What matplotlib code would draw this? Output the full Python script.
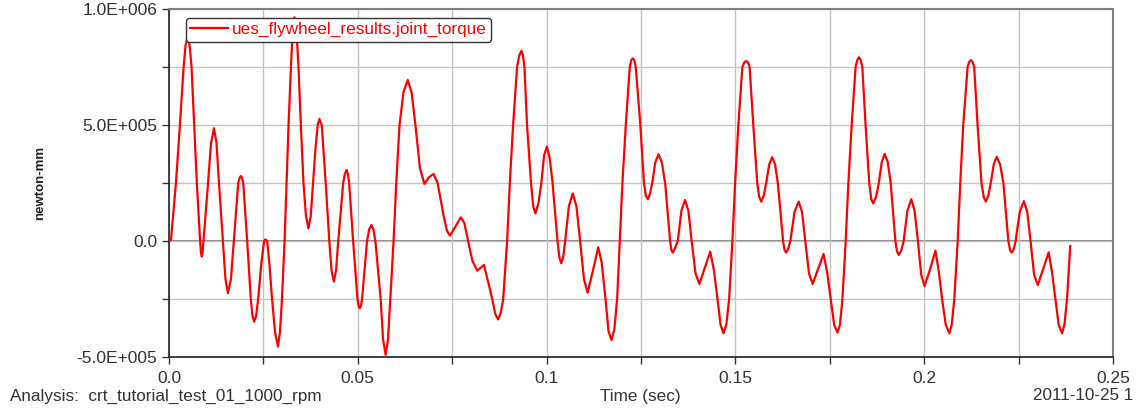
import matplotlib.pyplot as plt
from matplotlib.ticker import FuncFormatter, MultipleLocator

# joint torque: time in ms, torque in newton-mm
time_ms = [
    0.0, 0.53, 1.84, 2.89, 3.87, 4.40, 4.92, 5.45,
    5.97, 6.66, 7.37, 8.24, 8.46, 8.68, 8.90, 9.13,
    10.34, 11.13, 11.92, 12.58, 13.24, 14.29, 14.95, 15.61,
    16.40, 17.18, 18.34, 18.69, 19.03, 19.35, 19.66, 20.71,
    21.66, 22.10, 22.55, 23.08, 23.61, 24.40, 25.18, 25.53,
    26.00, 26.60, 27.29, 28.10, 28.87, 29.40, 29.92, 30.61,
    31.13, 31.66, 32.29, 32.77, 33.24, 33.77, 34.29, 34.92,
    35.61, 36.27, 36.92, 37.54, 38.16, 38.80, 39.39, 39.82,
    40.45, 41.50, 42.45, 43.05, 43.68, 44.25, 44.82, 46.13,
    46.58, 47.03, 47.37, 47.71, 48.76, 49.92, 50.22, 50.53,
    50.83, 51.13, 52.45, 53.00, 53.61, 54.15, 54.66, 56.05,
    56.70, 57.37, 58.00, 58.61, 59.47, 60.18, 61.05, 62.10,
    63.24, 64.25, 65.26, 66.45, 67.63, 68.85, 70.08, 71.13,
    72.76, 73.60, 74.39, 75.85, 77.29, 78.20, 79.21, 80.40,
    81.66, 83.42, 85.61, 86.40, 87.18, 87.85, 88.50, 89.55,
    90.26, 91.13, 92.18, 92.76, 93.34, 93.74, 94.13, 94.82,
    95.87, 96.45, 97.03, 97.80, 98.61, 99.35, 100.08, 100.80,
    101.58, 102.89, 103.38, 103.87, 104.40, 104.92, 105.90, 106.92,
    107.90, 108.87, 109.90, 110.87, 112.30, 113.68, 114.60, 115.61,
    116.40, 117.18, 117.95, 118.68, 119.39, 120.08, 120.97, 122.03,
    122.42, 122.82, 123.22, 123.61, 124.82, 125.79, 126.30, 126.84,
    127.40, 127.97, 128.80, 129.66, 130.50, 131.39, 132.71, 133.06,
    133.42, 133.90, 134.74, 135.70, 136.66, 137.55, 138.42, 139.45,
    140.45, 141.90, 143.34, 144.30, 145.26, 146.05, 146.84, 147.60,
    148.34, 149.21, 149.92, 150.79, 151.84, 152.37, 152.89, 153.33,
    153.76, 154.74, 155.79, 156.30, 156.84, 157.50, 158.16, 158.95,
    159.74, 160.50, 161.24, 162.63, 163.00, 163.42, 163.95, 164.55,
    165.65, 166.76, 167.65, 168.50, 169.50, 170.45, 171.90, 173.34,
    174.30, 175.26, 176.15, 177.03, 177.70, 178.34, 179.21, 179.92,
    180.79, 181.84, 182.28, 182.71, 183.16, 183.61, 184.47, 185.45,
    185.98, 186.50, 187.25, 187.97, 188.76, 189.55, 190.35, 191.13,
    192.37, 192.80, 193.24, 193.90, 194.55, 195.55, 196.58, 197.45,
    198.34, 199.20, 200.08, 201.50, 202.97, 203.85, 204.74, 205.70,
    206.66, 207.30, 207.97, 208.87, 209.55, 210.34, 211.50, 211.93,
    212.37, 212.80, 213.24, 214.13, 215.18, 215.75, 216.32, 216.97,
    217.63, 218.42, 219.21, 220.10, 220.97, 222.29, 222.72, 223.16,
    223.70, 224.21, 225.30, 226.39, 227.30, 228.16, 229.10, 230.08,
    231.50, 232.97, 233.85, 234.74, 235.60, 236.50, 237.15, 237.82,
    238.68,
]
torque = [
    0, 5e3, 2.5e5, 5e5, 7.5e5, 8.45e5, 8.8e5, 8.45e5,
    7.5e5, 5e5, 2.5e5, 0, -4.9e4, -6.7e4, -4.9e4, 0,
    2.5e5, 4.22e5, 4.86e5, 4.22e5, 2.5e5, 0, -1.64e5, -2.25e5,
    -1.64e5, 0, 2.5e5, 2.72e5, 2.8e5, 2.72e5, 2.5e5, 0,
    -2.5e5, -3.22e5, -3.48e5, -3.22e5, -2.5e5, -1.05e5, 0, 7e3,
    0, -1.0e5, -2.5e5, -3.95e5, -4.55e5, -3.9e5, -2.5e5, 0,
    2.5e5, 5e5, 7.5e5, 9.05e5, 9.64e5, 9.05e5, 7.5e5, 5e5,
    2.5e5, 1.08e5, 5.5e4, 1.08e5, 2.5e5, 4.0e5, 5e5, 5.26e5,
    5e5, 2.5e5, 0, -1.28e5, -1.75e5, -1.25e5, 0, 2.5e5,
    2.9e5, 3.06e5, 2.9e5, 2.5e5, 0, -2.5e5, -2.8e5, -2.9e5,
    -2.8e5, -2.5e5, 0, 5.0e4, 6.9e4, 4.8e4, 0, -2.5e5,
    -4.25e5, -4.91e5, -4.25e5, -2.5e5, 0, 2.5e5, 5e5, 6.42e5,
    6.94e5, 6.4e5, 5e5, 3.15e5, 2.46e5, 2.75e5, 2.89e5, 2.5e5,
    1.07e5, 4.5e4, 2.3e4, 6.2e4, 1.02e5, 7.8e4, 0, -8.8e4,
    -1.28e5, -1.03e5, -2.5e5, -3.15e5, -3.38e5, -3.1e5, -2.5e5, 0,
    2.5e5, 5e5, 7.5e5, 8.0e5, 8.2e5, 8.0e5, 7.5e5, 5e5,
    2.5e5, 1.5e5, 1.19e5, 1.6e5, 2.5e5, 3.7e5, 4.07e5, 3.6e5,
    2.5e5, 0, -7e4, -9.6e4, -7e4, 0, 1.5e5, 2.05e5,
    1.5e5, 0, -1.65e5, -2.23e5, -1.25e5, -2.7e4, -9.5e4, -2.5e5,
    -3.9e5, -4.27e5, -3.8e5, -2.5e5, 0, 2.5e5, 5e5, 7.5e5,
    7.8e5, 7.87e5, 7.8e5, 7.5e5, 5e5, 2.5e5, 1.95e5, 1.8e5,
    2.05e5, 2.5e5, 3.4e5, 3.74e5, 3.4e5, 2.5e5, 0, -4e4,
    -5e4, -3.5e4, 0, 1.3e5, 1.77e5, 1.3e5, 0, -1.4e5,
    -1.85e5, -1.15e5, -4.6e4, -1.25e5, -2.5e5, -3.6e5, -3.98e5, -3.6e5,
    -2.5e5, 0, 2.5e5, 5e5, 7.5e5, 7.7e5, 7.76e5, 7.7e5,
    7.5e5, 5e5, 2.5e5, 1.9e5, 1.7e5, 1.95e5, 2.5e5, 3.3e5,
    3.61e5, 3.3e5, 2.5e5, 0, -3.8e4, -5e4, -3.5e4, 0,
    1.25e5, 1.7e5, 1.25e5, 0, -1.4e5, -1.85e5, -1.2e5, -5.6e4,
    -1.35e5, -2.5e5, -3.6e5, -3.95e5, -3.6e5, -2.5e5, 0, 2.5e5,
    5e5, 7.5e5, 7.8e5, 7.92e5, 7.8e5, 7.5e5, 5e5, 2.5e5,
    1.8e5, 1.62e5, 1.9e5, 2.5e5, 3.4e5, 3.75e5, 3.4e5, 2.5e5,
    0, -4.5e4, -6e4, -4.3e4, 0, 1.3e5, 1.8e5, 1.3e5,
    0, -1.45e5, -1.94e5, -1.25e5, -4.2e4, -1.3e5, -2.5e5, -3.6e5,
    -3.98e5, -3.6e5, -2.5e5, 0, 2.5e5, 5e5, 7.5e5, 7.72e5,
    7.8e5, 7.72e5, 7.5e5, 5e5, 2.5e5, 1.9e5, 1.7e5, 1.95e5,
    2.5e5, 3.3e5, 3.63e5, 3.3e5, 2.5e5, 0, -3.8e4, -5e4,
    -3.6e4, 0, 1.25e5, 1.72e5, 1.25e5, 0, -1.45e5, -1.9e5,
    -1.2e5, -4.9e4, -1.35e5, -2.5e5, -3.6e5, -3.98e5, -3.6e5, -2.5e5,
    -2.2e4,
]
time_sec = [t / 1000.0 for t in time_ms]

x_ticks = [0.0, 0.05, 0.1, 0.15, 0.2, 0.25]
x_labels = ["0.0", "0.05", "0.1", "0.15", "0.2", "0.25"]
y_labels = {-5e5: "-5.0E+005", 0: "0.0", 5e5: "5.0E+005", 1e6: "1.0E+006"}

plt.rcParams["font.family"] = ["Liberation Sans", "DejaVu Sans"]

W, H = 1145, 412
fig = plt.figure(figsize=(W / 100, H / 100), dpi=100)
ax = fig.add_axes([169 / W, 1 - 357 / H, (1113 - 169) / W, (357 - 9) / H])

ax.plot(time_sec, torque, color="red", lw=1.6, solid_joinstyle="round",
        label="ues_flywheel_results.joint_torque", zorder=3)

ax.set_xlim(0, 0.25)
ax.set_ylim(-5e5, 1e6)
ax.set_xticks(x_ticks)
ax.set_xticklabels(x_labels)
ax.xaxis.set_minor_locator(MultipleLocator(0.025))
ax.yaxis.set_major_locator(MultipleLocator(5e5))
ax.yaxis.set_minor_locator(MultipleLocator(2.5e5))
ax.yaxis.set_major_formatter(FuncFormatter(lambda v, p: y_labels.get(round(v), "")))

ax.grid(True, which="both", color="#c4c4c4", lw=1.0, zorder=0)
ax.axhline(0, color="#6a6a6a", lw=1.2, zorder=1)
ax.tick_params(which="both", direction="out", length=5, width=1, color="#333333",
               labelsize=12.5, labelcolor="#333333")
ax.tick_params(axis="x", pad=5)

for side in ["left", "bottom"]:
    ax.spines[side].set_color("#222222")
    ax.spines[side].set_linewidth(1.2)
for side in ["top", "right"]:
    ax.spines[side].set_color("#808080")
    ax.spines[side].set_linewidth(1.5)

leg = ax.legend(loc="upper left", bbox_to_anchor=(186 / W, 1 - 18 / H),
                bbox_transform=fig.transFigure, fontsize=12.3, labelcolor="red",
                handlelength=2.2, handletextpad=0.25, borderpad=0.25,
                borderaxespad=0, fancybox=True, framealpha=1, edgecolor="#333333")
leg.get_frame().set_boxstyle("round", pad=0, rounding_size=0.2)
leg.get_frame().set_linewidth(1.0)
leg.set_zorder(5)

fig.text(40 / W, 1 - 183 / H, "newton-mm", rotation=90, ha="center", va="center",
         fontsize=9.5, fontweight="bold", color="#222222")
fig.text(10 / W, 1 - 396 / H, "Analysis:  crt_tutorial_test_01_1000_rpm",
         ha="left", va="center", fontsize=12.3, color="#333333")
fig.text(640 / W, 1 - 396 / H, "Time (sec)", ha="center", va="center",
         fontsize=12.3, color="#333333")
fig.text(1133 / W, 1 - 396 / H, "2011-10-25 1", ha="right", va="center",
         fontsize=12.3, color="#333333")

fig.savefig("out.png", dpi=100)
